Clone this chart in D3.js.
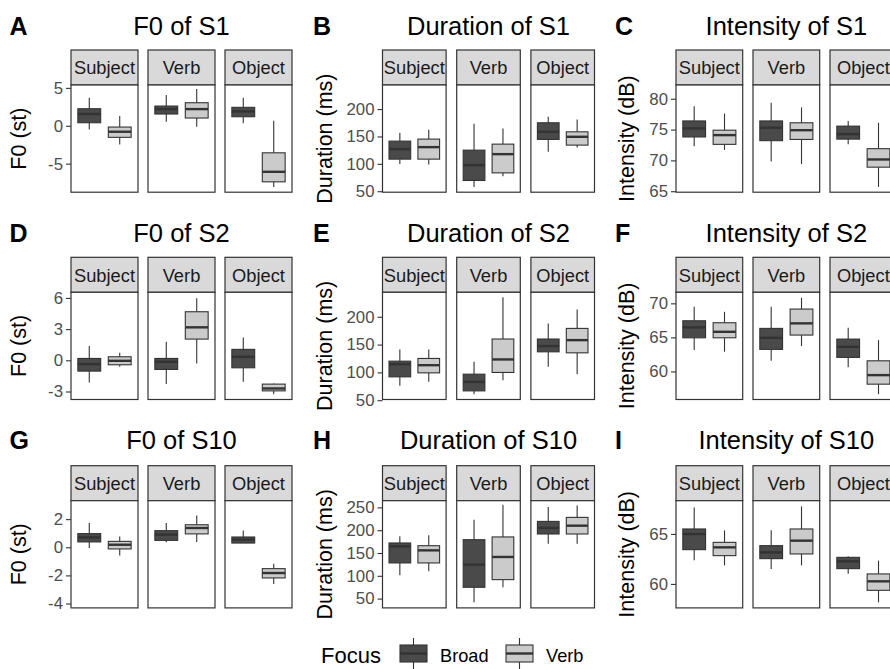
<!DOCTYPE html>
<html><head><meta charset="utf-8">
<script src="https://cdn.jsdelivr.net/npm/d3@7"></script>
<style>html,body{margin:0;padding:0;background:#fff;} svg{display:block;font-family:"Liberation Sans",Arial,sans-serif;}</style>
</head><body>
<script>
// ---- data ----
const facets = ["Subject", "Verb", "Object"];
const focusLevels = ["Broad", "Verb"];
const tags = ["A","B","C","D","E","F","G","H","I"];
const titles = ["F0 of S1","Duration of S1","Intensity of S1","F0 of S2","Duration of S2","Intensity of S2","F0 of S10","Duration of S10","Intensity of S10"];
const yTitles = ["F0 (st)","Duration (ms)","Intensity (dB)"];
// box stats: [lower whisker, Q1, median, Q3, upper whisker], order: Subject-Broad, Subject-Verb, Verb-Broad, Verb-Verb, Object-Broad, Object-Verb
const f0S1  = [[-0.48,0.4,1.55,2.25,3.7],[-2.46,-1.53,-0.79,-0.17,1.28],[0.53,1.55,2.2,2.6,4.06],[-0.13,1.02,2.2,3.04,4.85],[0.32,1.19,1.9,2.43,3.7],[-8.07,-7.4,-6.08,-3.57,0.66]];
const durS1 = [[99.5,108.6,126.9,141.5,156.7],[98.9,108.6,130.5,145.2,162.2],[57.9,69.6,97.6,125,173],[77.5,83.5,117.7,136,164.7],[122,144.6,158.5,175,186],[130,134.2,149.4,158.5,181.2]];
const intS1 = [[72.3,73.8,75.2,76.4,78.8],[71.7,72.6,74.1,74.9,77.6],[69.8,73.2,75.3,76.4,79.35],[69.4,73.4,74.9,76.1,78.6],[72.6,73.45,74.26,75.56,76.4],[65.7,68.9,70.15,71.9,76.1]];
const f0S2  = [[-2.13,-1.04,-0.37,0.18,1.37],[-0.63,-0.43,-0.05,0.34,0.72],[-2.29,-0.88,-0.14,0.18,1.78],[-0.3,2.04,3.17,4.67,5.96],[-2.07,-0.72,0.34,1.05,2.2],[-3.26,-2.94,-2.71,-2.29,-2.23]];
const durS2 = [[75.8,92,114.8,120.2,141.3],[83,99.2,113,125.1,141.3],[60.8,66.8,83,96.8,119],[86,99.9,123.3,160,235],[110,137,147.4,160,188.1],[96.8,135.2,158,179.1,213.3]];
const intS2 = [[63.13,64.94,66.47,67.44,69.5],[62.9,64.94,65.82,67.15,68.76],[61.56,63.24,64.94,66.32,69.5],[63.72,65.34,67.06,69.16,70.82],[60.6,62.06,63.62,64.75,66.4],[56.66,58.13,59.46,61.56,64.6]];
const f0S10  = [[-0.05,0.38,0.7,0.97,1.73],[-0.58,-0.12,0.18,0.42,0.77],[0.35,0.49,0.9,1.18,1.73],[0.38,0.95,1.37,1.6,2.25],[0.3,0.3,0.54,0.73,1.2],[-2.61,-2.18,-1.83,-1.52,-1.17]];
const durS10 = [[101,128.2,164.6,172,186.5],[109.8,128.2,155.8,166,188.7],[41.9,74.8,124.5,179.2,223],[74.8,91.6,141.3,185.2,255.9],[170.5,191.7,204.9,219.3,250.9],[170.5,191.7,209.9,228.1,254.4]];
const intS10 = [[62.36,63.43,65.0,65.5,67.66],[61.86,62.83,63.66,64.16,65.36],[61.5,62.53,63.16,63.83,65.36],[61.86,63.0,64.33,65.5,67.76],[61.03,61.53,62.26,62.66,62.76],[58.16,59.36,60.26,61.0,62.33]];
const yDomains = [[-8.77,5.38],[48.2,244],[64.84,82.23],[-3.77,6.54],[51.3,244],[55.88,71.62],[-4.31,3.31],[29.6,264.7],[57.6,68.33]];
const yTicks = [[-5,0,5],[50,100,150,200],[65,70,75,80],[-3,0,3,6],[50,100,150,200],[60,65,70],[-4,-2,0,2],[50,100,150,200,250],[60,65]];
const tickLabelsFmt = d => d < 0 ? "-" + Math.abs(d) : String(d);

const panelData = [f0S1, durS1, intS1, f0S2, durS2, intS2, f0S10, durS10, intS10];

// ---- layout ----
const W = 890, H = 669;
const colPanelX = [[71,148,225],[382.5,456.7,530.9],[676,753,830]];
const colPanelW = [67, 63.6, 66.7];
const colTagX = [9.5, 313, 615];
const colYTitleX = [26, 332, 634];
const rowStripTop = [50, 257.3, 465.7];
const rowTitleBase = [35, 242, 449];
const stripH = 35, panelH = 107.2;

const fillCol = d3.scaleOrdinal().domain(focusLevels).range(["#4A4A4A", "#CBCBCB"]);
const lineCol = "#333333";

const svg = d3.select("body").append("svg").attr("width", W).attr("height", H);
svg.append("rect").attr("width", W).attr("height", H).attr("fill", "#fff");

panelData.forEach((stats, idx) => {
  const row = Math.floor(idx / 3), col = idx % 3;
  const top = rowStripTop[row] + stripH, bottom = top + panelH;
  const y = d3.scaleLinear().domain(yDomains[idx]).range([bottom, top]);
  const pw = colPanelW[col];
  const px = colPanelX[col];
  const g = svg.append("g");

  // tag & title
  g.append("text").attr("x", colTagX[col]).attr("y", rowTitleBase[row])
    .attr("font-size", 25).attr("font-weight", "bold").attr("fill", "#000").text(tags[idx]);
  g.append("text").attr("x", (px[0] + px[2] + pw) / 2).attr("y", rowTitleBase[row])
    .attr("text-anchor", "middle").attr("font-size", 25.5).attr("fill", "#000").text(titles[idx]);

  // y title
  const yc = (top + bottom) / 2;
  g.append("text").attr("transform", `translate(${colYTitleX[col]},${yc}) rotate(-90)`)
    .attr("text-anchor", "middle").attr("font-size", 21.5).attr("fill", "#000").text(yTitles[col]);

  // y axis on first panel
  const ax = g.append("g").attr("transform", `translate(${px[0]},0)`)
    .call(d3.axisLeft(y).tickValues(yTicks[idx]).tickSize(5).tickPadding(3).tickFormat(tickLabelsFmt));
  ax.attr("font-size", null).attr("font-family", null);
  ax.select(".domain").remove();
  ax.selectAll(".tick line").attr("stroke", lineCol).attr("stroke-width", 1.1);
  ax.selectAll(".tick text").attr("fill", "#4D4D4D").style("font-size", "16.8px")
    .style("font-family", '"Liberation Sans",Arial,sans-serif');

  facets.forEach((f, fi) => {
    const x0 = px[fi];
    // strip
    g.append("rect").attr("x", x0).attr("y", rowStripTop[row]).attr("width", pw).attr("height", stripH)
      .attr("fill", "#D9D9D9").attr("stroke", lineCol).attr("stroke-width", 1.2);
    g.append("text").attr("x", x0 + pw / 2).attr("y", rowStripTop[row] + stripH / 2 + 6.8)
      .attr("text-anchor", "middle").attr("font-size", 18.3).attr("fill", "#1A1A1A").text(f);
    // panel
    g.append("rect").attr("x", x0).attr("y", top).attr("width", pw).attr("height", panelH)
      .attr("fill", "#fff").attr("stroke", "none");
    const x = d3.scalePoint().domain(focusLevels).range([x0, x0 + pw]).padding(0.6);
    const bw = x.step() * 0.75;
    focusLevels.forEach((lv, li) => {
      const s = stats[fi * 2 + li];
      const cx = x(lv);
      g.append("line").attr("x1", cx).attr("x2", cx).attr("y1", y(s[4])).attr("y2", y(s[3]))
        .attr("stroke", lineCol).attr("stroke-width", 1.1);
      g.append("line").attr("x1", cx).attr("x2", cx).attr("y1", y(s[1])).attr("y2", y(s[0]))
        .attr("stroke", lineCol).attr("stroke-width", 1.1);
      g.append("rect").attr("x", cx - bw / 2).attr("y", y(s[3])).attr("width", bw)
        .attr("height", Math.max(0, y(s[1]) - y(s[3])))
        .attr("fill", fillCol(lv)).attr("stroke", lineCol).attr("stroke-width", 1.1);
      g.append("line").attr("x1", cx - bw / 2).attr("x2", cx + bw / 2).attr("y1", y(s[2])).attr("y2", y(s[2]))
        .attr("stroke", lineCol).attr("stroke-width", 2.4);
    });
    g.append("rect").attr("x", x0).attr("y", top).attr("width", pw).attr("height", panelH)
      .attr("fill", "none").attr("stroke", lineCol).attr("stroke-width", 1.2);
  });
});

// ---- legend ----
const leg = svg.append("g");
leg.append("text").attr("x", 321).attr("y", 663).attr("font-size", 22).attr("fill", "#000").text("Focus");
const keyX = [400, 506], labX = [440, 546];
focusLevels.forEach((lv, i) => {
  const kx = keyX[i], kw = 27, cx = kx + kw / 2;
  leg.append("line").attr("x1", cx).attr("x2", cx).attr("y1", 638).attr("y2", 669).attr("stroke", lineCol).attr("stroke-width", 1.1);
  leg.append("rect").attr("x", kx).attr("y", 645).attr("width", kw).attr("height", 17)
    .attr("fill", fillCol(lv)).attr("stroke", lineCol).attr("stroke-width", 1.1);
  leg.append("line").attr("x1", kx).attr("x2", kx + kw).attr("y1", 653.5).attr("y2", 653.5).attr("stroke", lineCol).attr("stroke-width", 2.4);
  leg.append("text").attr("x", labX[i]).attr("y", 662).attr("font-size", 18.2).attr("fill", "#000").text(lv);
});
</script>
</body></html>
